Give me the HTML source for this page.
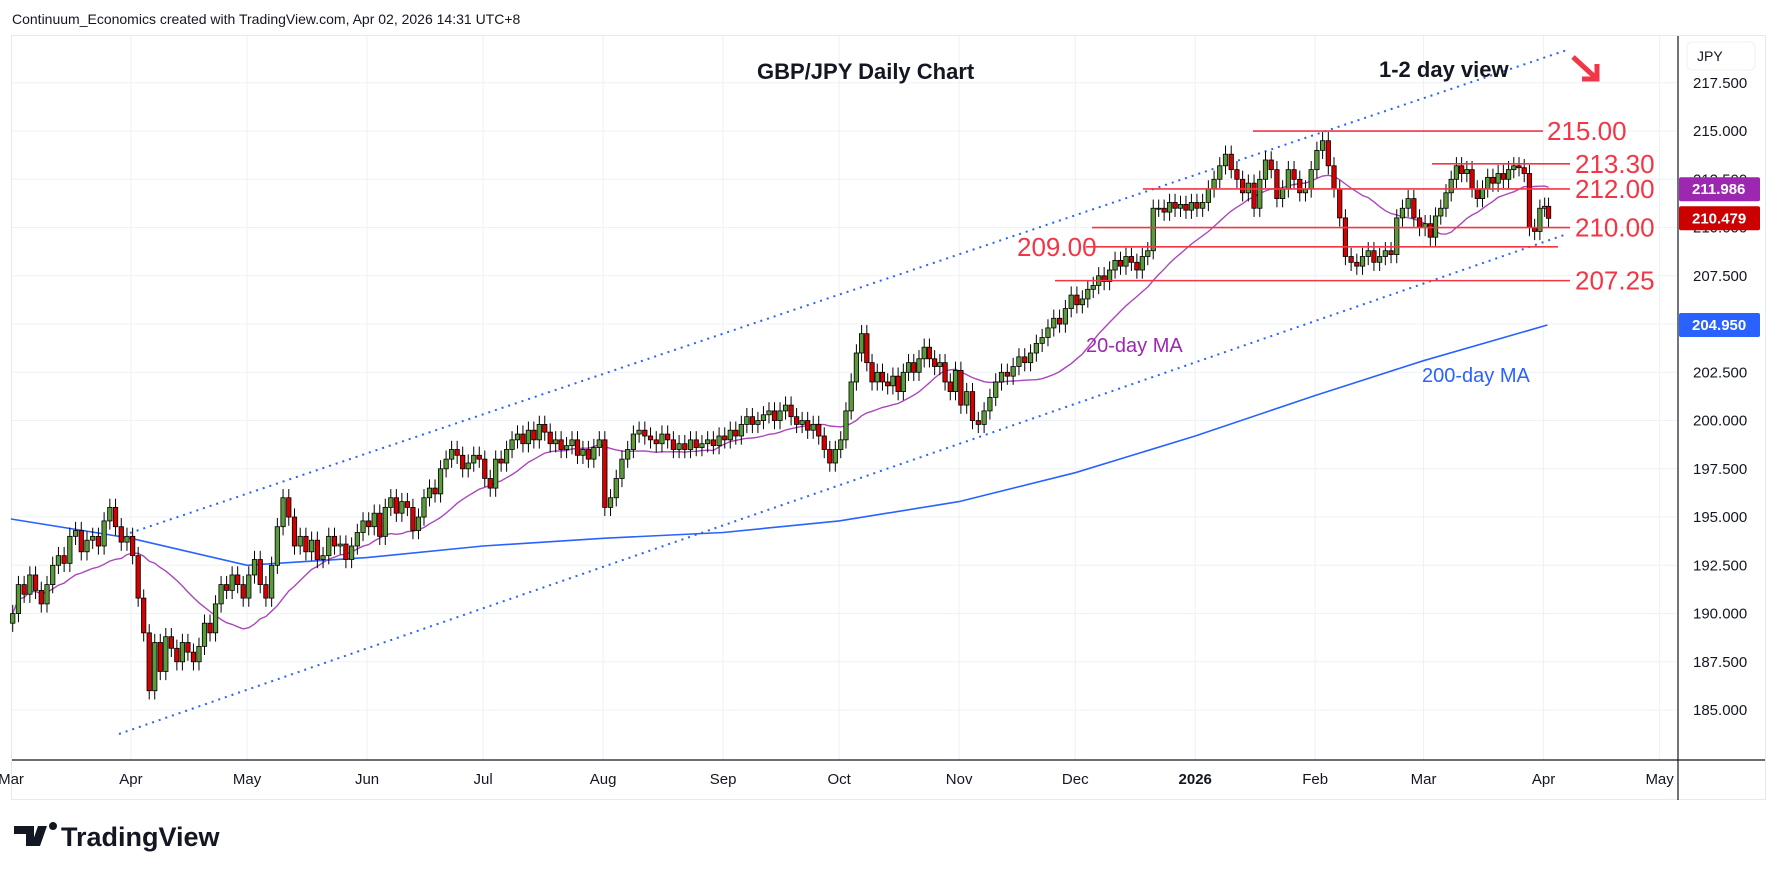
<!DOCTYPE html>
<html><head><meta charset="utf-8">
<style>
html,body{margin:0;padding:0;background:#fff;width:1778px;height:873px;overflow:hidden}
svg{display:block;font-family:"Liberation Sans",sans-serif}
</style></head>
<body>
<svg id="c" width="1778" height="873" viewBox="0 0 1778 873">
<text x="12" y="24" font-size="14" fill="#131722">Continuum_Economics created with TradingView.com, Apr 02, 2026 14:31 UTC+8</text>
<rect x="11.5" y="35.5" width="1754" height="764" fill="none" stroke="#e6e9ef"/>
<g id="grid"></g>
<g id="marks"></g>
<line x1="1678" y1="36" x2="1678" y2="800" stroke="#131722" stroke-width="1.2"/>
<line x1="12" y1="760" x2="1765" y2="760" stroke="#131722" stroke-width="1.2"/>
<rect x="1687" y="42" width="68" height="28" rx="5" fill="#fff" stroke="#eef0f3"/>
<text x="1697" y="61" font-size="14" fill="#131722">JPY</text>
<g id="axis"></g>
<text x="757" y="79" font-size="22" font-weight="bold" fill="#131722">GBP/JPY Daily Chart</text>
<text x="1379" y="77" font-size="22" font-weight="bold" fill="#131722">1-2 day view</text>
<g stroke="#f23645" stroke-width="5" fill="none"><line x1="1573" y1="57" x2="1597" y2="79"/><polyline points="1597,64 1597,79 1582,79"/></g>
<text x="1086" y="352" font-size="20" fill="#9c27b0">20-day MA</text>
<text x="1422" y="382" font-size="20" fill="#2962ff">200-day MA</text>
<g>
<path d="M14 826h20v20h-8v-12h-12z M38 826h9l-7 20h-9z M49 826a4 4 0 1 1 0 .1z" fill="#131722"/>
<text x="61" y="846" font-size="27" font-weight="bold" fill="#131722">TradingView</text>
</g>
</svg>
<script>
// ---- data ----
const months = ["Mar","Apr","May","Jun","Jul","Aug","Sep","Oct","Nov","Dec","2026","Feb","Mar","Apr","May"];
const monthDays = [0,31,61,92,122,153,184,214,245,275,306,337,365,396,426]; // day offset from 2025-03-01
const priceTicks = [185,187.5,190,192.5,195,197.5,200,202.5,205,207.5,210,212.5,215,217.5];
const closeMar25=[190.0,191.5,191.0,192.0,191.2,190.5,191.5,192.5,193.0,192.6,194.0,194.3,193.2,193.8,194.0,193.5,194.8,195.5,194.5,193.7,194.0];
const closeApr25=[193.0,190.8,189.0,186.0,188.5,187.0,188.8,188.2,187.5,188.5,188.0,187.5,188.3,189.5,189.0,190.5,191.5,191.2,192.0,191.5,190.8];
const closeMay25=[192.0,192.8,191.5,190.8,192.5,194.5,196.0,195.0,193.5,194.0,193.2,193.8,192.8,193.0,194.0,193.5,193.6,192.8,193.5,194.2,194.8];
const closeJun25=[194.5,195.2,194.0,195.5,196.0,195.2,195.8,195.5,194.3,195.0,196.0,196.5,196.2,197.5,198.0,198.5,198.2,197.5,197.8,198.2,198.0];
const closeJul25=[197.0,196.5,198.0,197.8,198.5,199.0,199.3,198.8,199.5,199.0,199.8,199.4,198.8,199.0,198.5,198.7,199.0,198.2,198.5,198.0,198.6,199.0];
const closeAug25=[195.5,196.0,197.0,198.0,198.5,199.3,199.5,199.2,199.0,198.8,199.3,199.0,198.5,198.8,198.5,199.0,198.6,198.8,199.0,198.7,199.2];
const closeSep25=[199.0,199.5,199.2,199.8,200.2,199.8,200.0,200.3,200.5,200.0,200.5,200.8,200.2,199.8,200.0,199.5,199.8,199.2,198.5,197.8,198.5];
const closeOct25=[199.0,200.5,202.0,203.5,204.5,203.0,202.0,202.5,202.0,201.8,202.3,201.5,202.5,203.0,202.5,203.2,203.8,203.2,202.8,203.0,202.0,201.5,202.6];
const closeNov25=[200.8,201.5,200.0,199.8,200.5,201.2,202.0,202.5,202.3,202.8,203.3,203.0,203.5,204.0,204.3,204.8,205.3,205.0,205.8,206.5];
const closeDec25=[206.0,206.3,206.8,207.0,207.5,207.2,207.8,208.3,208.0,208.5,208.2,207.8,208.5,208.8,211.0,211.0,210.8,211.3,211.0,211.2,210.9,211.3];
const closeJan26=[211.0,211.3,212.0,212.5,213.2,213.8,213.0,212.5,211.8,212.3,211.0,212.5,213.5,213.0,211.5,212.0,213.0,212.5,211.8,212.0,213.0];
const closeFeb26=[214.0,214.5,213.2,212.0,210.5,208.5,208.2,208.0,208.5,208.8,208.2,208.5,208.8,208.6,210.5,211.0,211.5,210.5,210.0];
const closeMar26=[210.2,209.5,210.6,211.0,211.8,212.5,213.2,212.8,213.0,212.0,211.5,212.0,212.6,212.3,212.8,212.5,213.0,213.2,213.1,212.8,210.0,209.8,211.0];
const closeApr26=[211.1,210.479];
const ma200Values=[194.9,193.9,192.5,192.9,193.5,193.9,194.2,194.8,195.8,197.3,199.2,201.3,203.1,204.95];
const ma200Days=[0,31,61,92,122,153,184,214,245,275,306,337,365,397];
const levels=[{v:215.00,x1:1253,x2:1543,lx:1547},{v:213.30,x1:1432,x2:1570,lx:1575},{v:212.00,x1:1143,x2:1570,lx:1575},{v:210.00,x1:1092,x2:1570,lx:1575},{v:209.00,x1:1086,x2:1558,lx:null},{v:207.25,x1:1055,x2:1570,lx:1575}];
const channelUpper=[[130,533],[1567,50]];
const channelLower=[[119,734],[1567,234]];
// ---- axes ----
const xDay=d=>11+d*3.87;
const yP=p=>82.8+(217.5-p)*19.3;
const NS="http://www.w3.org/2000/svg";
function mk(t,a,parent){const e=document.createElementNS(NS,t);for(const k in a)e.setAttribute(k,a[k]);parent.appendChild(e);return e;}
const grid=document.getElementById('grid'),marks=document.getElementById('marks'),axis=document.getElementById('axis');
priceTicks.forEach(p=>{
 const l=mk('line',{x1:12,x2:1678,y1:yP(p),y2:yP(p),stroke:'#eef1f6'},grid);
 
 
 const t=mk('text',{x:1693,y:yP(p)+5,'font-size':15,fill:'#131722'},axis);
 t.textContent=p.toFixed(3);
 
 
});
months.forEach((m,i)=>{
 const x=xDay(monthDays[i]);
 if(x>12){const l=mk('line',{x1:x,x2:x,y1:36,y2:760,stroke:'#eef1f6'},grid);
 
 }
 const t=mk('text',{x:x,y:784,'font-size':15,fill:'#131722','text-anchor':'middle','font-weight':m==='2026'?'bold':'normal'},axis);
 t.textContent=m;
 
 
});
[channelUpper,channelLower].forEach((c,i)=>{
 const l=mk('line',{x1:c[0][0],y1:c[0][1],x2:c[1][0],y2:c[1][1],stroke:'#2962ff','stroke-width':2,'stroke-dasharray':'2 5'},marks);
 
 
});
const monthly=[closeMar25,closeApr25,closeMay25,closeJun25,closeJul25,closeAug25,closeSep25,closeOct25,closeNov25,closeDec25,closeJan26,closeFeb26,closeMar26,closeApr26];
const bars=[];
monthly.forEach((arr,m)=>{
 const d0=monthDays[m], span=(m===13?2:monthDays[m+1]-d0);
 const n=(m===13?2:arr.length);
 arr.forEach((c,j)=>bars.push({c,x:xDay(d0+(j+0.3)*span/n)}));
});
let pts=ma200Values.map((v,i)=>xDay(ma200Days[i]).toFixed(1)+','+yP(v).toFixed(1)).join(' ');
pts=(12)+','+yP(ma200Values[0]).toFixed(1)+' '+pts;
const m200=mk('polyline',{points:pts,fill:'none',stroke:'#2962ff','stroke-width':1.6},marks);


const p20=bars.map((b,i)=>{const s=bars.slice(Math.max(0,i-19),i+1);const a=s.reduce((t,q)=>t+q.c,0)/s.length;return b.x.toFixed(1)+','+yP(a).toFixed(1);}).join(' ');
const m20=mk('polyline',{points:p20,fill:'none',stroke:'#ab47bc','stroke-width':1.4},marks);


bars.forEach((b,i)=>{
 const o=i?bars[i-1].c:b.c-0.5, c=b.c;
 const hi=Math.max(o,c)+0.45, lo=Math.min(o,c)-0.45;
 const up=c>=o;
 const g=mk('g',{},marks);
 
 
 mk('line',{x1:b.x,x2:b.x,y1:yP(hi),y2:yP(lo),stroke:'#000','stroke-width':1},g);
 const top=yP(Math.max(o,c)),bot=yP(Math.min(o,c));
 mk('rect',{x:b.x-2.2,y:top,width:4.4,height:Math.max(1,bot-top),fill:up?'#5a9a3a':'#d50000',stroke:'#000','stroke-width':0.8},g);
});
levels.forEach(L=>{
 const l=mk('line',{x1:L.x1,x2:L.x2,y1:yP(L.v),y2:yP(L.v),stroke:'#f23645','stroke-width':1.6},marks);
 
 
 const t=mk('text',{x:L.lx===null?1017:L.lx,y:yP(L.v)+9,'font-size':26,fill:'#f23645'},marks);
 t.textContent=L.v.toFixed(2);
 
 
});
const badges=[[211.986,'#9c27b0'],[bars[bars.length-1].c,'#cc0000'],[ma200Values[ma200Values.length-1],'#2962ff']];
badges.forEach(([v,col])=>{
 const g=mk('g',{},axis);
 
 
 mk('rect',{x:1679,y:yP(v)-12,width:81,height:24,rx:2,fill:col},g);
 const t=mk('text',{x:1692,y:yP(v)+5,'font-size':15,fill:'#fff','font-weight':'bold'},g);
 t.textContent=v.toFixed(3);
});
</script>
</body></html>
